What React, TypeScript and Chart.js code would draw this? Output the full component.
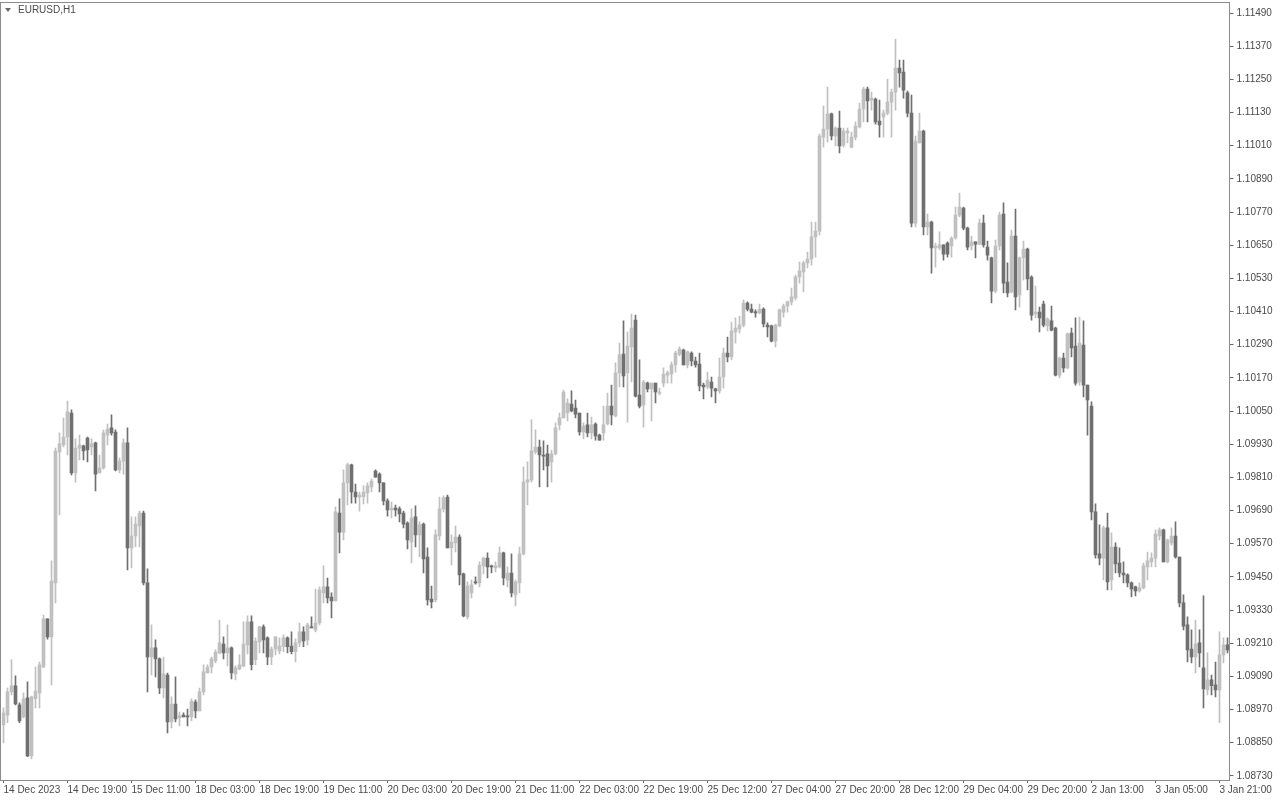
import { useEffect, useRef } from "react";
import { Chart, registerables } from "chart.js";

Chart.register(...registerables);

const symbolTitle = "EURUSD,H1";

const timeLabels = [
  "14 Dec 2023", "14 Dec 19:00", "15 Dec 11:00", "18 Dec 03:00", "18 Dec 19:00",
  "19 Dec 11:00", "20 Dec 03:00", "20 Dec 19:00", "21 Dec 11:00", "22 Dec 03:00",
  "22 Dec 19:00", "25 Dec 12:00", "27 Dec 04:00", "27 Dec 20:00", "28 Dec 12:00",
  "29 Dec 04:00", "29 Dec 20:00", "2 Jan 13:00", "3 Jan 05:00", "3 Jan 21:00",
];
const barsPerLabel = 16;

const priceTicks = [
  1.0873, 1.0885, 1.0897, 1.0909, 1.0921, 1.0933, 1.0945, 1.0957, 1.0969, 1.0981,
  1.0993, 1.1005, 1.1017, 1.1029, 1.1041, 1.1053, 1.1065, 1.1077, 1.1089, 1.1101,
  1.1113, 1.1125, 1.1137, 1.1149,
];
const priceMin = 1.08715;
const priceMax = 1.1153;

const opens = [
  1.08914, 1.08950, 1.09034, 1.09056, 1.08987, 1.08943, 1.09012, 1.08802, 1.09009, 1.09030,
  1.09124, 1.09298, 1.09233, 1.09428, 1.09902, 1.09927, 1.09956, 1.10043, 1.09826, 1.09916,
  1.09924, 1.09952, 1.09920, 1.09935, 1.09826, 1.09844, 1.09963, 1.09989, 1.09974, 1.09837,
  1.09869, 1.09935, 1.09555, 1.09598, 1.09634, 1.09681, 1.09428, 1.09160, 1.09193, 1.09153,
  1.09048, 1.09095, 1.08925, 1.08990, 1.08940, 1.08950, 1.08947, 1.08943, 1.08997, 1.08965,
  1.09034, 1.09102, 1.09124, 1.09146, 1.09175, 1.09207, 1.09175, 1.09193, 1.09099, 1.09117,
  1.09128, 1.09204, 1.09287, 1.09150, 1.09215, 1.09269, 1.09229, 1.09160, 1.09189, 1.09182,
  1.09197, 1.09229, 1.09200, 1.09179, 1.09211, 1.09251, 1.09222, 1.09269, 1.09258, 1.09283,
  1.09392, 1.09414, 1.09377, 1.09363, 1.09681, 1.09612, 1.09790, 1.09855, 1.09757, 1.09739,
  1.09739, 1.09754, 1.09775, 1.09833, 1.09822, 1.09790, 1.09725, 1.09692, 1.09699, 1.09696,
  1.09681, 1.09645, 1.09576, 1.09667, 1.09602, 1.09641, 1.09522, 1.09370, 1.09367, 1.09598,
  1.09696, 1.09739, 1.09555, 1.09573, 1.09594, 1.09461, 1.09305, 1.09392, 1.09432, 1.09428,
  1.09490, 1.09518, 1.09490, 1.09482, 1.09486, 1.09537, 1.09439, 1.09464, 1.09385, 1.09428,
  1.09533, 1.09793, 1.09801, 1.09902, 1.09920, 1.09891, 1.09895, 1.09866, 1.09895, 1.10000,
  1.10025, 1.10043, 1.10075, 1.10061, 1.10043, 1.09974, 1.10000, 1.09971, 1.10003, 1.09963,
  1.09971, 1.10003, 1.10068, 1.10032, 1.10188, 1.10256, 1.10188, 1.10282, 1.10379, 1.10108,
  1.10072, 1.10151, 1.10130, 1.10151, 1.10115, 1.10151, 1.10180, 1.10184, 1.10217, 1.10256,
  1.10271, 1.10217, 1.10260, 1.10231, 1.10220, 1.10144, 1.10137, 1.10155, 1.10130, 1.10123,
  1.10173, 1.10260, 1.10246, 1.10336, 1.10347, 1.10361, 1.10441, 1.10419, 1.10408, 1.10405,
  1.10419, 1.10361, 1.10358, 1.10303, 1.10358, 1.10408, 1.10430, 1.10445, 1.10459, 1.10535,
  1.10553, 1.10586, 1.10600, 1.10680, 1.10701, 1.11041, 1.11070, 1.11125, 1.11045, 1.11074,
  1.11012, 1.11056, 1.11005, 1.11041, 1.11078, 1.11143, 1.11215, 1.11175, 1.11179, 1.11099,
  1.11114, 1.11128, 1.11168, 1.11204, 1.11291, 1.11276, 1.11201, 1.11128, 1.10730, 1.11020,
  1.11063, 1.10716, 1.10734, 1.10640, 1.10640, 1.10651, 1.10658, 1.10647, 1.10676, 1.10759,
  1.10784, 1.10712, 1.10647, 1.10662, 1.10654, 1.10730, 1.10643, 1.10604, 1.10484, 1.10647,
  1.10763, 1.10517, 1.10481, 1.10683, 1.10470, 1.10604, 1.10636, 1.10535, 1.10401, 1.10408,
  1.10437, 1.10358, 1.10376, 1.10350, 1.10180, 1.10242, 1.10206, 1.10332, 1.10285, 1.10155,
  1.10289, 1.10144, 1.10068, 1.09685, 1.09533, 1.09518, 1.09627, 1.09439, 1.09558, 1.09500,
  1.09464, 1.09457, 1.09428, 1.09414, 1.09399, 1.09410, 1.09486, 1.09504, 1.09518, 1.09598,
  1.09620, 1.09504, 1.09573, 1.09598, 1.09522, 1.09356, 1.09276, 1.09189, 1.09160, 1.09211,
  1.09121, 1.09041, 1.09077, 1.09059, 1.09041, 1.09168, 1.09204,
];

const highs = [
  1.08976, 1.09048, 1.09150, 1.09092, 1.08994, 1.09030, 1.09070, 1.09019, 1.09124, 1.09142,
  1.09312, 1.09298, 1.09508, 1.09916, 1.09971, 1.10025, 1.10086, 1.10054, 1.09949, 1.09963,
  1.09927, 1.09956, 1.09949, 1.09938, 1.09891, 1.09981, 1.10003, 1.10036, 1.09982, 1.09880,
  1.09949, 1.09989, 1.09667, 1.09667, 1.09688, 1.09688, 1.09479, 1.09276, 1.09222, 1.09157,
  1.09160, 1.09102, 1.09016, 1.09088, 1.08961, 1.08958, 1.08972, 1.09009, 1.09005, 1.09048,
  1.09132, 1.09132, 1.09160, 1.09186, 1.09294, 1.09233, 1.09276, 1.09197, 1.09128, 1.09168,
  1.09287, 1.09309, 1.09309, 1.09229, 1.09272, 1.09276, 1.09233, 1.09197, 1.09233, 1.09229,
  1.09240, 1.09233, 1.09251, 1.09226, 1.09283, 1.09269, 1.09283, 1.09305, 1.09406, 1.09414,
  1.09490, 1.09446, 1.09392, 1.09703, 1.09732, 1.09837, 1.09862, 1.09858, 1.09786, 1.09757,
  1.09779, 1.09790, 1.09804, 1.09837, 1.09826, 1.09790, 1.09732, 1.09721, 1.09710, 1.09703,
  1.09688, 1.09649, 1.09696, 1.09707, 1.09649, 1.09645, 1.09555, 1.09417, 1.09620, 1.09739,
  1.09743, 1.09746, 1.09602, 1.09634, 1.09602, 1.09464, 1.09432, 1.09439, 1.09450, 1.09504,
  1.09522, 1.09537, 1.09493, 1.09504, 1.09558, 1.09540, 1.09486, 1.09533, 1.09439, 1.09558,
  1.09848, 1.09866, 1.10018, 1.09982, 1.09945, 1.09942, 1.09927, 1.09909, 1.10007, 1.10043,
  1.10126, 1.10094, 1.10123, 1.10090, 1.10043, 1.10007, 1.10043, 1.10028, 1.10007, 1.09967,
  1.10068, 1.10115, 1.10144, 1.10224, 1.10296, 1.10376, 1.10336, 1.10401, 1.10397, 1.10235,
  1.10162, 1.10155, 1.10151, 1.10151, 1.10133, 1.10206, 1.10195, 1.10227, 1.10267, 1.10282,
  1.10274, 1.10267, 1.10264, 1.10245, 1.10260, 1.10151, 1.10191, 1.10173, 1.10133, 1.10242,
  1.10278, 1.10318, 1.10372, 1.10387, 1.10394, 1.10452, 1.10445, 1.10437, 1.10416, 1.10437,
  1.10423, 1.10369, 1.10361, 1.10365, 1.10419, 1.10437, 1.10448, 1.10495, 1.10542, 1.10589,
  1.10593, 1.10625, 1.10734, 1.10734, 1.11052, 1.11154, 1.11222, 1.11128, 1.11078, 1.11135,
  1.11074, 1.11074, 1.11059, 1.11096, 1.11164, 1.11222, 1.11222, 1.11204, 1.11182, 1.11175,
  1.11139, 1.11251, 1.11215, 1.11396, 1.11320, 1.11320, 1.11208, 1.11193, 1.11045, 1.11128,
  1.11067, 1.10763, 1.10737, 1.10658, 1.10698, 1.10651, 1.10662, 1.10680, 1.10788, 1.10839,
  1.10788, 1.10716, 1.10683, 1.10662, 1.10745, 1.10759, 1.10665, 1.10607, 1.10669, 1.10770,
  1.10803, 1.10586, 1.10705, 1.10781, 1.10607, 1.10665, 1.10640, 1.10539, 1.10502, 1.10426,
  1.10448, 1.10387, 1.10430, 1.10354, 1.10245, 1.10260, 1.10332, 1.10350, 1.10387, 1.10390,
  1.10376, 1.10144, 1.10083, 1.09714, 1.09638, 1.09634, 1.09681, 1.09609, 1.09573, 1.09555,
  1.09504, 1.09461, 1.09432, 1.09417, 1.09428, 1.09500, 1.09540, 1.09537, 1.09620, 1.09627,
  1.09623, 1.09587, 1.09627, 1.09649, 1.09522, 1.09385, 1.09305, 1.09258, 1.09294, 1.09258,
  1.09381, 1.09175, 1.09095, 1.09142, 1.09251, 1.09229, 1.09229,
];

const lows = [
  1.08849, 1.08922, 1.09023, 1.08987, 1.08922, 1.08940, 1.08799, 1.08791, 1.08976, 1.08976,
  1.09121, 1.09225, 1.09059, 1.09356, 1.09674, 1.09920, 1.09891, 1.09819, 1.09793, 1.09873,
  1.09873, 1.09866, 1.09891, 1.09761, 1.09826, 1.09840, 1.09927, 1.09963, 1.09833, 1.09826,
  1.09822, 1.09475, 1.09482, 1.09558, 1.09558, 1.09421, 1.09034, 1.09095, 1.09088, 1.09027,
  1.09012, 1.08885, 1.08903, 1.08925, 1.08911, 1.08943, 1.08911, 1.08929, 1.08940, 1.08965,
  1.09023, 1.09102, 1.09102, 1.09139, 1.09171, 1.09153, 1.09128, 1.09081, 1.09077, 1.09113,
  1.09124, 1.09171, 1.09113, 1.09132, 1.09175, 1.09175, 1.09132, 1.09132, 1.09168, 1.09171,
  1.09179, 1.09175, 1.09171, 1.09142, 1.09197, 1.09197, 1.09204, 1.09265, 1.09251, 1.09276,
  1.09356, 1.09356, 1.09301, 1.09363, 1.09537, 1.09584, 1.09710, 1.09717, 1.09717, 1.09688,
  1.09714, 1.09717, 1.09757, 1.09811, 1.09757, 1.09710, 1.09670, 1.09663, 1.09670, 1.09649,
  1.09627, 1.09551, 1.09500, 1.09558, 1.09522, 1.09464, 1.09348, 1.09338, 1.09359, 1.09584,
  1.09685, 1.09555, 1.09493, 1.09540, 1.09421, 1.09305, 1.09298, 1.09374, 1.09424, 1.09414,
  1.09461, 1.09446, 1.09464, 1.09468, 1.09482, 1.09421, 1.09414, 1.09377, 1.09345, 1.09392,
  1.09529, 1.09710, 1.09793, 1.09895, 1.09775, 1.09837, 1.09775, 1.09793, 1.09891, 1.09982,
  1.10025, 1.10014, 1.10047, 1.10025, 1.09963, 1.09949, 1.09956, 1.09949, 1.09945, 1.09945,
  1.09945, 1.10000, 1.10000, 1.10029, 1.10137, 1.10137, 1.10010, 1.10155, 1.10101, 1.10061,
  1.09992, 1.10119, 1.10014, 1.10079, 1.10108, 1.10137, 1.10151, 1.10151, 1.10191, 1.10249,
  1.10217, 1.10206, 1.10213, 1.10209, 1.10123, 1.10094, 1.10130, 1.10101, 1.10079, 1.10115,
  1.10133, 1.10228, 1.10235, 1.10296, 1.10332, 1.10354, 1.10412, 1.10405, 1.10390, 1.10401,
  1.10354, 1.10318, 1.10300, 1.10282, 1.10354, 1.10390, 1.10408, 1.10434, 1.10452, 1.10513,
  1.10481, 1.10568, 1.10578, 1.10607, 1.10687, 1.11005, 1.11023, 1.11031, 1.11009, 1.10984,
  1.11005, 1.11020, 1.11002, 1.11031, 1.11074, 1.11096, 1.11096, 1.11139, 1.11088, 1.11041,
  1.11041, 1.11121, 1.11041, 1.11139, 1.11222, 1.11182, 1.11114, 1.10716, 1.10716, 1.11020,
  1.10687, 1.10687, 1.10549, 1.10571, 1.10633, 1.10596, 1.10607, 1.10607, 1.10672, 1.10752,
  1.10705, 1.10633, 1.10633, 1.10604, 1.10651, 1.10643, 1.10596, 1.10441, 1.10477, 1.10633,
  1.10477, 1.10463, 1.10477, 1.10416, 1.10426, 1.10524, 1.10488, 1.10379, 1.10387, 1.10336,
  1.10354, 1.10340, 1.10340, 1.10177, 1.10170, 1.10191, 1.10202, 1.10246, 1.10144, 1.10144,
  1.10101, 1.09963, 1.09656, 1.09518, 1.09493, 1.09439, 1.09403, 1.09403, 1.09464, 1.09450,
  1.09428, 1.09414, 1.09377, 1.09381, 1.09395, 1.09406, 1.09439, 1.09486, 1.09486, 1.09584,
  1.09504, 1.09500, 1.09565, 1.09518, 1.09341, 1.09258, 1.09142, 1.09139, 1.09102, 1.09124,
  1.08976, 1.09023, 1.09023, 1.09016, 1.08922, 1.09139, 1.09175,
];

const closes = [
  1.08958, 1.09034, 1.09056, 1.08990, 1.08929, 1.09009, 1.08802, 1.09016, 1.09037, 1.09132,
  1.09298, 1.09233, 1.09435, 1.09905, 1.09931, 1.09956, 1.10047, 1.09826, 1.09916, 1.09927,
  1.09906, 1.09909, 1.09931, 1.09822, 1.09844, 1.09971, 1.09985, 1.09971, 1.09837, 1.09869,
  1.09935, 1.09555, 1.09598, 1.09641, 1.09681, 1.09428, 1.09160, 1.09193, 1.09153, 1.09048,
  1.09099, 1.08925, 1.08990, 1.08936, 1.08947, 1.08943, 1.08943, 1.09001, 1.08965, 1.09034,
  1.09106, 1.09124, 1.09153, 1.09178, 1.09211, 1.09175, 1.09193, 1.09102, 1.09121, 1.09132,
  1.09207, 1.09287, 1.09132, 1.09218, 1.09269, 1.09222, 1.09160, 1.09189, 1.09233, 1.09200,
  1.09229, 1.09197, 1.09179, 1.09211, 1.09251, 1.09218, 1.09276, 1.09265, 1.09283, 1.09403,
  1.09414, 1.09374, 1.09363, 1.09685, 1.09612, 1.09790, 1.09855, 1.09757, 1.09739, 1.09746,
  1.09757, 1.09779, 1.09797, 1.09811, 1.09790, 1.09725, 1.09692, 1.09699, 1.09692, 1.09678,
  1.09641, 1.09584, 1.09663, 1.09602, 1.09638, 1.09515, 1.09367, 1.09359, 1.09602, 1.09696,
  1.09736, 1.09555, 1.09576, 1.09594, 1.09457, 1.09309, 1.09417, 1.09421, 1.09428, 1.09493,
  1.09518, 1.09486, 1.09486, 1.09490, 1.09537, 1.09446, 1.09464, 1.09392, 1.09432, 1.09533,
  1.09793, 1.09801, 1.09906, 1.09920, 1.09891, 1.09887, 1.09851, 1.09895, 1.09989, 1.10025,
  1.10119, 1.10079, 1.10050, 1.10039, 1.09974, 1.09996, 1.09971, 1.10000, 1.09960, 1.09945,
  1.10000, 1.10068, 1.10036, 1.10188, 1.10253, 1.10177, 1.10285, 1.10350, 1.10104, 1.10068,
  1.10155, 1.10130, 1.10151, 1.10119, 1.10119, 1.10184, 1.10188, 1.10217, 1.10260, 1.10274,
  1.10217, 1.10264, 1.10231, 1.10217, 1.10141, 1.10137, 1.10162, 1.10133, 1.10123, 1.10173,
  1.10260, 1.10246, 1.10340, 1.10350, 1.10361, 1.10441, 1.10419, 1.10408, 1.10405, 1.10419,
  1.10365, 1.10354, 1.10303, 1.10361, 1.10416, 1.10430, 1.10445, 1.10463, 1.10535, 1.10557,
  1.10586, 1.10600, 1.10680, 1.10701, 1.11045, 1.11070, 1.11125, 1.11045, 1.11074, 1.11009,
  1.11063, 1.11063, 1.11041, 1.11081, 1.11143, 1.11215, 1.11172, 1.11182, 1.11096, 1.11085,
  1.11128, 1.11168, 1.11204, 1.11291, 1.11273, 1.11211, 1.11128, 1.10730, 1.11027, 1.11063,
  1.10716, 1.10734, 1.10640, 1.10647, 1.10651, 1.10618, 1.10618, 1.10676, 1.10759, 1.10788,
  1.10712, 1.10643, 1.10662, 1.10654, 1.10730, 1.10651, 1.10614, 1.10484, 1.10647, 1.10759,
  1.10513, 1.10477, 1.10683, 1.10463, 1.10604, 1.10636, 1.10528, 1.10397, 1.10408, 1.10387,
  1.10361, 1.10383, 1.10343, 1.10180, 1.10242, 1.10206, 1.10329, 1.10278, 1.10151, 1.10296,
  1.10144, 1.10090, 1.09685, 1.09529, 1.09518, 1.09627, 1.09432, 1.09558, 1.09497, 1.09464,
  1.09457, 1.09428, 1.09406, 1.09399, 1.09410, 1.09490, 1.09508, 1.09518, 1.09605, 1.09620,
  1.09504, 1.09584, 1.09598, 1.09522, 1.09356, 1.09272, 1.09186, 1.09160, 1.09207, 1.09175,
  1.09045, 1.09077, 1.09056, 1.09041, 1.09168, 1.09204, 1.09186,
];

const BULL = "#c0c0c0";
const BEAR = "#707070";
const FRAME = "#8c8c8c";
const TEXT = "#4a4a4a";
const FONT = "Liberation Sans";

export default function App() {
  const ref = useRef<HTMLCanvasElement>(null);

  useEffect(() => {
    document.body.style.margin = "0";
    const canvas = ref.current;
    if (!canvas) return;

    const labels = opens.map((_, i) => i);
    const colors = opens.map((o, i) => (closes[i] >= o ? BULL : BEAR));

    const framePlugin = {
      id: "mtFrame",
      afterDraw(chart: any) {
        const { ctx, chartArea } = chart;
        ctx.save();
        ctx.strokeStyle = FRAME;
        ctx.lineWidth = 1;
        const l = Math.floor(chartArea.left) + 0.5;
        const t = Math.floor(chartArea.top) + 0.5;
        const r = Math.floor(chartArea.right) + 0.5;
        const b = Math.floor(chartArea.bottom) + 0.5;
        ctx.strokeRect(l - 1, t, r - l + 1, b - t);
        // title
        ctx.fillStyle = "#6a6a6a";
        ctx.beginPath();
        ctx.moveTo(5, 8);
        ctx.lineTo(11, 8);
        ctx.lineTo(8, 12);
        ctx.closePath();
        ctx.fill();
        ctx.fillStyle = TEXT;
        ctx.font = `10px "${FONT}"`;
        ctx.textBaseline = "middle";
        ctx.textAlign = "left";
        ctx.fillText(symbolTitle, 18, 10.5);
        ctx.restore();
      },
    };

    const chart = new Chart(canvas, {
      type: "bar",
      data: {
        labels,
        datasets: [
          {
            data: lows.map((l, i) => [l, highs[i]]),
            backgroundColor: colors,
            barThickness: 1,
            grouped: false,
            minBarLength: 1,
            borderWidth: 0,
            order: 2,
          } as any,
          {
            data: opens.map((o, i) => [o, closes[i]]),
            backgroundColor: colors,
            barThickness: 3,
            grouped: false,
            minBarLength: 1,
            borderWidth: 0,
            order: 1,
          } as any,
        ],
      },
      options: {
        animation: false,
        responsive: false,
        devicePixelRatio: 1,
        layout: { padding: { left: 1.5, top: 2, right: 0, bottom: 0 } },
        plugins: {
          legend: { display: false },
          tooltip: { enabled: false },
        },
        scales: {
          x: {
            type: "category",
            offset: true,
            grid: {
              display: true,
              drawOnChartArea: false,
              offset: false,
              tickLength: 3,
              color: "#666",
            },
            border: { display: false },
            afterBuildTicks: (axis: any) => {
              axis.ticks = axis.ticks.filter((t: any) => t.value % barsPerLabel === 0);
            },
            afterFit: (axis: any) => {
              axis.height = 20;
              axis.paddingLeft = 0;
              axis.paddingRight = 0;
            },
            ticks: {
              autoSkip: false,
              maxRotation: 0,
              minRotation: 0,
              align: "start",
              padding: 1,
              color: TEXT,
              font: { family: FONT, size: 10 },
              callback: (value: any) => timeLabels[Number(value) / barsPerLabel] ?? "",
            },
          },
          y: {
            type: "linear",
            position: "right",
            min: priceMin,
            max: priceMax,
            grid: {
              display: true,
              drawOnChartArea: false,
              tickLength: 4,
              color: "#666",
            },
            border: { display: false },
            afterBuildTicks: (axis: any) => {
              axis.ticks = priceTicks.map((v) => ({ value: v }));
            },
            afterFit: (axis: any) => {
              axis.width = 50.5;
              axis.paddingTop = 0;
              axis.paddingBottom = 0;
            },
            ticks: {
              padding: 3,
              color: TEXT,
              font: { family: FONT, size: 10 },
              callback: (value: any) => Number(value).toFixed(5),
            },
          },
        },
      },
      plugins: [framePlugin],
    });

    return () => chart.destroy();
  }, []);

  return (
    <div style={{ width: 1280, height: 800, background: "#fff" }}>
      <canvas ref={ref} width={1280} height={800} style={{ display: "block" }} />
    </div>
  );
}
